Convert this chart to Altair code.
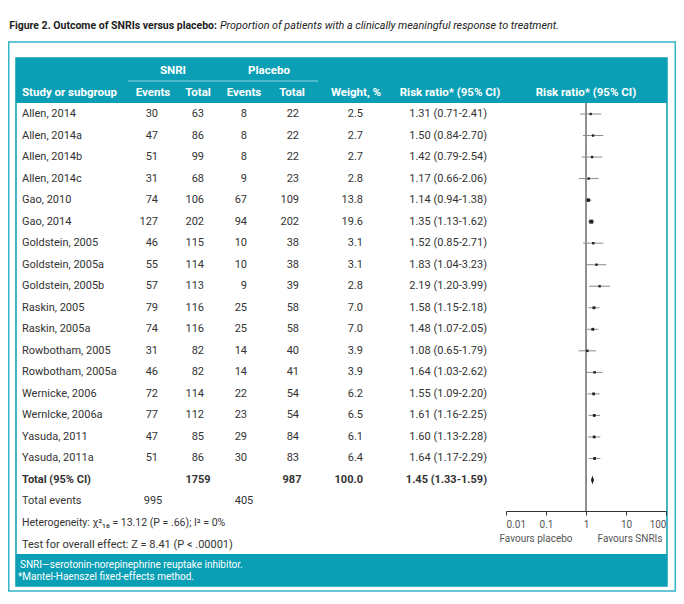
import altair as alt
import pandas as pd

# ---------------- data ----------------
studies = ["Allen, 2014", "Allen, 2014a", "Allen, 2014b", "Allen, 2014c", "Gao, 2010", "Gao, 2014",
           "Goldstein, 2005", "Goldstein, 2005a", "Goldstein, 2005b", "Raskin, 2005", "Raskin, 2005a",
           "Rowbotham, 2005", "Rowbotham, 2005a", "Wernicke, 2006", "Wernlcke, 2006a", "Yasuda, 2011",
           "Yasuda, 2011a"]
snri_events = [30, 47, 51, 31, 74, 127, 46, 55, 57, 79, 74, 31, 46, 72, 77, 47, 51]
snri_total = [63, 86, 99, 68, 106, 202, 115, 114, 113, 116, 116, 82, 82, 114, 112, 85, 86]
placebo_events = [8, 8, 8, 9, 67, 94, 10, 10, 9, 25, 25, 14, 14, 22, 23, 29, 30]
placebo_total = [22, 22, 22, 23, 109, 202, 38, 38, 39, 58, 58, 40, 41, 54, 54, 84, 83]
weights = [2.5, 2.7, 2.7, 2.8, 13.8, 19.6, 3.1, 3.1, 2.8, 7.0, 7.0, 3.9, 3.9, 6.2, 6.5, 6.1, 6.4]
rr = [1.31, 1.50, 1.42, 1.17, 1.14, 1.35, 1.52, 1.83, 2.19, 1.58, 1.48, 1.08, 1.64, 1.55, 1.61, 1.60, 1.64]
ci_lo = [0.71, 0.84, 0.79, 0.66, 0.94, 1.13, 0.85, 1.04, 1.20, 1.15, 1.07, 0.65, 1.03, 1.09, 1.16, 1.13, 1.17]
ci_hi = [2.41, 2.70, 2.54, 2.06, 1.38, 1.62, 2.71, 3.23, 3.99, 2.18, 2.05, 1.79, 2.62, 2.20, 2.25, 2.28, 2.29]

total_label = "Total (95% CI)"
total_snri = 1759
total_placebo = 987
total_weight = 100.0
total_rr = 1.45
total_lo = 1.33
total_hi = 1.59
events_label = "Total events"
total_snri_events = 995
total_placebo_events = 405

axis_ticks = [0.01, 0.1, 1, 10, 100]

title_bold = "Figure 2. Outcome of SNRIs versus placebo:"
title_italic = "Proportion of patients with a clinically meaningful response to treatment."
heterogeneity = "Heterogeneity: \u03c7\u00b2\u2081\u2086 = 13.12 (P = .66); I\u00b2 = 0%"
overall = "Test for overall effect: Z = 8.41 (P < .00001)"
footnotes = ["SNRI\u2014serotonin-norepinephrine reuptake inhibitor.", "*Mantel-Haenszel fixed-effects method."]

# ---------------- tables ----------------
n = len(studies)
df = pd.DataFrame({
    "row": list(range(n)),
    "study": studies,
    "se": [str(v) for v in snri_events],
    "st": [str(v) for v in snri_total],
    "pe": [str(v) for v in placebo_events],
    "pt": [str(v) for v in placebo_total],
    "w": weights,
    "wt": [f"{v:.1f}" for v in weights],
    "rr": rr,
    "lo": ci_lo,
    "hi": ci_hi,
    "rrt": [f"{a:.2f} ({b:.2f}-{c:.2f})" for a, b, c in zip(rr, ci_lo, ci_hi)],
})
tot = pd.DataFrame({
    "row": [n],
    "label": [total_label],
    "st": [str(total_snri)],
    "pt": [str(total_placebo)],
    "wt": [f"{total_weight:.1f}"],
    "rr": [total_rr],
    "rrt": [f"{total_rr:.2f} ({total_lo:.2f}-{total_hi:.2f})"],
})

# ---------------- layout ----------------
W, H = 668, 584
F = "Roboto"
TXT = "#333333"
TEAL = "#0a9fb5"
TEAL2 = "#33b4c9"
ROW0, ROWN = 106, 472  # pixel range for rows 0..17
ROWSTEP = (ROWN - ROW0) / 17.0

yscale = alt.Scale(domain=[0, 17], range=[ROW0, ROWN])
Y = alt.Y("row:Q", scale=yscale, axis=None)
xscale = alt.Scale(type="log", domain=[0.01, 100], range=[498, 658])
AXIS_Y = 503
xaxis = alt.Axis(values=axis_ticks, format="~g", offset=AXIS_Y - H, orient="bottom", title=None,
                 grid=False, domainColor="#333333", tickColor="#333333", labelColor="#555555",
                 labelFont=F, labelFontSize=10, tickSize=4, labelPadding=4, domainWidth=1,
                 zindex=2)

one = alt.Data(values=[{"a": 1}])


def rect(x1, x2, y1, y2, fill=None, stroke=None, sw=1.5):
    kw = {}
    if fill is not None:
        kw["fill"] = fill
    else:
        kw["fill"] = "transparent"
    if stroke is not None:
        kw["stroke"] = stroke
        kw["strokeWidth"] = sw
    return alt.Chart(one).mark_rect(**kw).encode(
        x=alt.value(x1), x2=alt.value(x2), y=alt.value(y1), y2=alt.value(y2))


def label(text, x, y, align="left", size=11, weight="normal", color=TXT, style="normal"):
    return alt.Chart(one).mark_text(text=text, align=align, baseline="middle", font=F, fontSize=size,
                                    fontWeight=weight, color=color, fontStyle=style).encode(
        x=alt.value(x), y=alt.value(y))


def col(data, field, x, align, weight="normal"):
    return alt.Chart(data).mark_text(align=align, baseline="middle", font=F, fontSize=11,
                                     fontWeight=weight, color=TXT).encode(
        x=alt.value(x), y=Y, text=f"{field}:N")


layers = []
# frames
layers.append(rect(0.75, 667.25, 34, 583, stroke=TEAL2, sw=1.5))
layers.append(rect(8, 659, 50, 578, fill="white", stroke=TEAL, sw=1.5))
layers.append(rect(8, 659, 50, 95, fill=TEAL))
layers.append(rect(8, 659, 546, 578, fill=TEAL))

# title
layers.append(label(title_bold, 209, 18, "right", size=10.5, weight="bold", color="#222222"))
layers.append(label(title_italic, 212, 18, size=10.8, style="italic", color="#222222"))

# header
HY1, HY2 = 63, 85
layers.append(label("SNRI", 165, HY1, "center", 11.5, "bold", "white"))
layers.append(label("Placebo", 261, HY1, "center", 11.5, "bold", "white"))
layers.append(alt.Chart(one).mark_rule(color="#8fd3de", strokeWidth=1).encode(
    x=alt.value(120), x2=alt.value(310), y=alt.value(73)))
for t, x, a in [("Study or subgroup", 14, "left"), ("Events", 145, "center"), ("Total", 190, "center"),
                ("Events", 236, "center"), ("Total", 284, "center"), ("Weight, %", 348, "center"),
                ("Risk ratio* (95% CI)", 442, "center"), ("Risk ratio* (95% CI)", 578, "center")]:
    layers.append(label(t, x, HY2, a, 11.5, "bold", "white"))

# study rows
layers.append(col(df, "study", 14, "left"))
layers.append(col(df, "se", 150, "right"))
layers.append(col(df, "st", 196, "right"))
layers.append(col(df, "pe", 239, "right"))
layers.append(col(df, "pt", 291, "right"))
layers.append(col(df, "wt", 355, "right"))
layers.append(col(df, "rrt", 479, "right"))

# total row
layers.append(col(tot, "label", 14, "left", "bold"))
layers.append(col(tot, "st", 190, "center", "bold"))
layers.append(col(tot, "pt", 284, "center", "bold"))
layers.append(col(tot, "wt", 355, "right", "bold"))
layers.append(col(tot, "rrt", 479, "right", "bold"))

# total events row
ev = pd.DataFrame({"row": [(493 - ROW0) / ROWSTEP], "label": [events_label],
                   "se": [str(total_snri_events)], "pe": [str(total_placebo_events)]})
layers.append(col(ev, "label", 14, "left"))
layers.append(col(ev, "se", 145, "center"))
layers.append(col(ev, "pe", 236, "center"))

layers.append(label(heterogeneity, 14, 515, size=10.5))
layers.append(label(overall, 14, 537, size=11))

# footnotes
layers.append(label(footnotes[0], 12, 557, size=10, color="white"))
layers.append(label(footnotes[1], 10, 569, size=10, color="white"))

# forest plot
layers.append(alt.Chart(one).mark_rule(color="#222222", strokeWidth=1).encode(
    x=alt.X("a:Q", scale=xscale, axis=xaxis), y=alt.value(95), y2=alt.value(AXIS_Y)))
layers.append(alt.Chart(df).mark_rule(color="#8a8a8a", strokeWidth=1).encode(
    x=alt.X("lo:Q", scale=xscale, axis=xaxis), x2="hi:Q", y=Y))
layers.append(alt.Chart(df).mark_square(color="#222222", opacity=1).encode(
    x=alt.X("rr:Q", scale=xscale, axis=xaxis), y=Y,
    size=alt.Size("w:Q", scale=alt.Scale(domain=[0, 20], range=[4, 16]), legend=None)))
layers.append(alt.Chart(tot).mark_point(shape="M0,-1L0.38,0L0,1L-0.38,0Z", filled=True, size=70,
                                        color="#222222", opacity=1).encode(
    x=alt.X("rr:Q", scale=xscale, axis=xaxis), y=Y))
layers.append(label("Favours placebo", 528, 531, "center", 10, color="#555555"))
layers.append(label("Favours SNRIs", 622, 531, "center", 10, color="#555555"))

chart = alt.layer(*layers).properties(
    width=W, height=H, autosize=alt.AutoSizeParams(type="none"), padding=0
).configure_view(stroke=None)

chart.save("out.html", embed_options={"renderer": "svg", "actions": False})
